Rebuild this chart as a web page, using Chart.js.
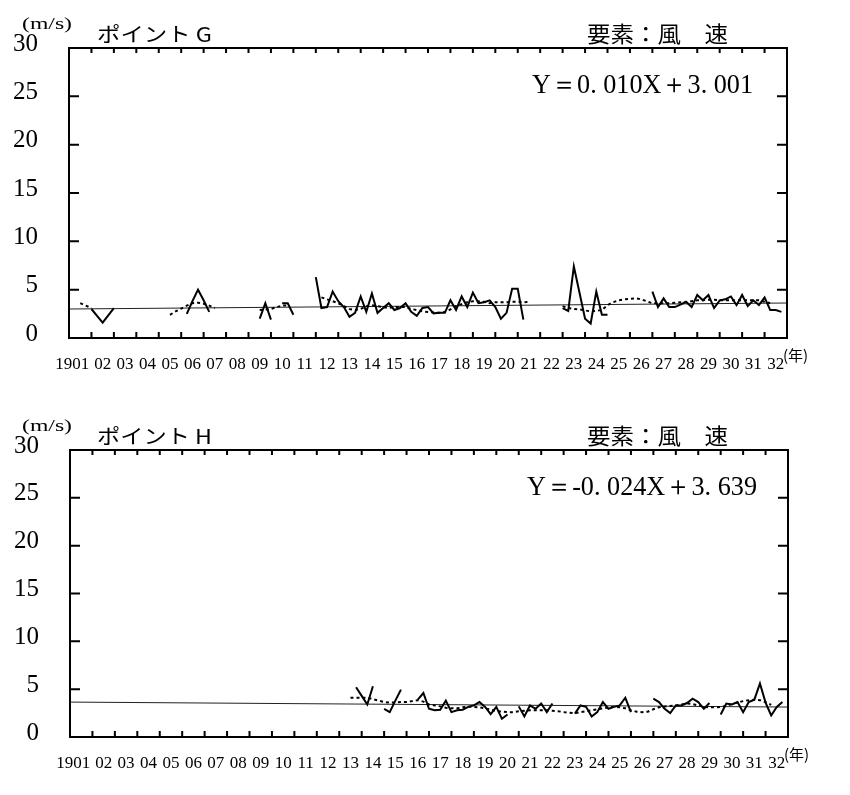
<!DOCTYPE html>
<html>
<head>
<meta charset="utf-8">
<script src="https://cdn.jsdelivr.net/npm/chart.js@4.4.1/dist/chart.umd.min.js"></script>
<style>
  html, body { margin: 0; padding: 0; background: #fff; }
  .box { position: absolute; left: 0; width: 850px; }
</style>
</head>
<body>
<div class="box" style="top:0;height:398px"><canvas id="chartG" width="850" height="398"></canvas></div>
<div class="box" style="top:398px;height:397px"><canvas id="chartH" width="850" height="397"></canvas></div>
<script>
const _ = null;

// year labels on the x axis (1901 - 1932)
const years = ['1901', '02', '03', '04', '05', '06', '07', '08', '09', '10',
  '11', '12', '13', '14', '15', '16', '17', '18', '19', '20',
  '21', '22', '23', '24', '25', '26', '27', '28', '29', '30', '31', '32'];
const perYear = 4; // four values a year
const yTicks = [0, 5, 10, 15, 20, 25, 30];

// ポイント G, wind speed (m/s), one row per year
const gSolid = [
  _, _, _, _,          3.0, 2.3, 1.6, 2.35,   3.1, _, _, _,          _, _, _, _,
  _, _, _, _,          _, 2.5, 3.8, 5.0,      3.9, 2.7, _, _,        _, _, _, _,
  _, _, 2.0, 3.6,      1.9, _, 3.6, 3.6,      2.4, _, _, _,          6.3, 3.1, 3.2, 4.8,
  3.8, 3.2, 2.2, 2.6,  4.3, 2.7, 4.6, 2.6,    3.1, 3.6, 2.9, 3.1,    3.6, 2.7, 2.3, 3.1,
  3.2, 2.55, 2.6, 2.6, 3.9, 2.9, 4.3, 3.2,    4.7, 3.6, 3.7, 3.9,    3.2, 2.0, 2.6, 5.1,
  5.1, 1.9, _, _,      _, _, _, _,            3.1, 2.8, 7.4, 4.7,    2.0, 1.5, 4.8, 2.4,
  2.4, _, _, _,        _, _, _, _,            4.8, 3.2, 4.1, 3.2,    3.2, 3.45, 3.75, 3.2,
  4.45, 3.9, 4.45, 3.1, 3.9, 4.0, 4.3, 3.4,   4.45, 3.3, 3.9, 3.4,   4.2, 2.9, 2.9, 2.7
];
const gSmooth = [
  _, _, 3.6, 3.35,     3.1, _, _, _,          _, _, _, _,            _, _, _, _,
  _, _, 2.4, 2.75,     3.05, 3.35, 3.6, 3.65, 3.55, 3.35, 3.1, _,    _, _, _, _,
  _, _, 2.9, 2.95,     3.0, 3.2, 3.35, 3.35,  _, _, _, _,            _, 4.2, 4.0, 3.8,
  3.6, 3.3, 3.0, 2.9,  3.0, 3.3, 3.4, 3.3,    3.2, 3.1, 3.2, 3.2,    3.2, 3.0, 2.9, 2.75,
  2.7, 2.65, 2.6, 2.7, 2.95, 3.3, 3.5, 3.7,   3.8, 3.8, 3.75, 3.6,   3.7, 3.7, 3.7, 3.75,
  3.75, 3.7, 3.75, _,  _, _, _, _,            3.3, 3.1, 3.0, 2.95,   2.85, 2.75, 2.8, 2.9,
  3.4, 3.7, 3.9, 4.0,  4.05, 4.1, 4.0, 3.8,   3.6, 3.6, 3.6, 3.6,    3.65, 3.7, 3.7, 3.8,
  3.9, 3.9, 3.95, 3.95, 3.9, 3.9, 3.9, 3.9,   3.9, 3.9, 3.9, 3.9,    3.75, 3.6, _, _
];
const gTrend = [3.0, 3.62]; // regression line at 1901 and at the end of 1932

// ポイント H
const hSolid = [
  _, _, _, _,          _, _, _, _,            _, _, _, _,            _, _, _, _,
  _, _, _, _,          _, _, _, _,            _, _, _, _,            _, _, _, _,
  _, _, _, _,          _, _, _, _,            _, _, _, _,            _, _, _, _,
  _, _, _, 5.2,        4.3, 3.4, 5.3, _,      2.95, 2.6, 3.8, 4.95,  _, _, 3.9, 4.6,
  2.95, 2.8, 2.85, 3.8, 2.6, 2.8, 2.85, 3.15, 3.3, 3.65, 3.15, 2.4,  3.15, 1.9, 2.35, _,
  3.2, 2.15, 3.3, 2.95, 3.5, 2.6, 3.5, _,     _, _, 2.45, 3.3,       3.15, 2.15, 2.6, 3.65,
  2.95, 3.15, 3.3, 4.1, 2.6, _, _, _,         4.0, 3.65, 2.95, 2.5,  3.3, 3.3, 3.55, 4.0,
  3.65, 2.95, 3.55, _, 2.35, 3.5, 3.4, 3.65,  2.6, 3.65, 3.9, 5.6,   3.6, 2.25, 3.15, 3.65
];
const hSmooth = [
  _, _, _, _,          _, _, _, _,            _, _, _, _,            _, _, _, _,
  _, _, _, _,          _, _, _, _,            _, _, _, _,            _, _, _, _,
  _, _, _, _,          _, _, _, _,            _, _, _, _,            _, _, _, _,
  _, _, 4.1, 4.1,      4.1, 4.1, 3.95, 3.8,   3.65, 3.6, 3.6, 3.65,  3.65, 3.75, 3.85, 3.7,
  3.4, 3.3, 3.2, 3.05, 3.0, 3.0, 3.1, 3.15,   3.15, 3.1, 3.0, 2.85,  2.7, 2.65, 2.6, 2.6,
  2.7, 2.75, 2.8, 2.8, 2.8, 2.8, 2.75, 2.7,   2.6, 2.55, 2.5, 2.6,   2.7, 2.8, 2.9, 3.0,
  3.1, 3.15, 3.1, 3.0, 2.8, 2.65, 2.6, 2.65,  2.9, 3.1, 3.2, 3.25,   3.3, 3.4, 3.5, 3.45,
  3.3, 3.15, 3.1, 3.1, 3.15, 3.25, 3.45, 3.6, 3.75, 3.85, 3.9, 3.85, 3.65, 3.35, _, _
];
const hTrend = [3.65, 3.13];

const toPoints = arr => arr.map((v, i) => ({ x: i / perYear, y: v }));

function fitText(ctx, text, left, cy, width, font) {
  ctx.font = font;
  const w = ctx.measureText(text).width;
  ctx.save();
  ctx.translate(left, cy);
  ctx.scale(width / w, 1);
  ctx.textAlign = 'left';
  ctx.textBaseline = 'middle';
  ctx.fillText(text, 0, 0);
  ctx.restore();
}

// frame with inward ticks, titles and the regression formula
const frameAndText = {
  id: 'frameAndText',
  afterDraw(chart, args, opts) {
    const { ctx, chartArea: a } = chart;
    const x = chart.scales.x, y = chart.scales.y;
    ctx.save();
    ctx.strokeStyle = '#000';
    ctx.lineWidth = 2;
    ctx.strokeRect(a.left, a.top, a.right - a.left, a.bottom - a.top);
    ctx.beginPath();
    yTicks.slice(1, -1).forEach(v => {
      const py = y.getPixelForValue(v);
      ctx.moveTo(a.left, py); ctx.lineTo(a.left + 10, py);
      ctx.moveTo(a.right - 10, py); ctx.lineTo(a.right, py);
    });
    for (let k = 1; k < years.length; k++) {
      const px = x.getPixelForValue(k);
      ctx.moveTo(px, a.top); ctx.lineTo(px, a.top + 5);
      ctx.moveTo(px, a.bottom); ctx.lineTo(px, a.bottom - 6);
    }
    ctx.stroke();

    ctx.fillStyle = '#000';
    fitText(ctx, '(m/s)', 22, a.top - 23, 50, '16px "Liberation Serif"');
    fitText(ctx, opts.title, 97, a.top - 14, 115, '20px "Noto Sans CJK JP"');
    fitText(ctx, '要素：風　速', 587, a.top - 14, 141, '22px "Noto Sans CJK JP"');
    fitText(ctx, opts.equation, opts.eqLeft, a.top + 38, opts.eqWidth, '27px "Liberation Serif"');
    ctx.font = '15px "Noto Sans CJK JP"';
    ctx.textAlign = 'left';
    ctx.textBaseline = 'middle';
    ctx.fillText('(年)', a.right - 4, a.bottom + 17);
    ctx.restore();
  }
};

function makeChart(id, solid, smooth, trend, o) {
  new Chart(document.getElementById(id), {
    type: 'line',
    data: {
      datasets: [
        { data: toPoints(solid), borderColor: '#000', borderWidth: 2, pointRadius: 0, tension: 0, spanGaps: false },
        { data: toPoints(smooth), borderColor: '#000', borderWidth: 2, borderDash: [3, 3], pointRadius: 0, tension: 0, spanGaps: false },
        { data: [{ x: 0, y: trend[0] }, { x: years.length, y: trend[1] }], borderColor: '#222', borderWidth: 1, pointRadius: 0 }
      ]
    },
    options: {
      responsive: false,
      animation: false,
      layout: { padding: { top: o.top, right: o.right, left: 0, bottom: 0 } },
      plugins: {
        legend: { display: false },
        tooltip: { enabled: false },
        frameAndText: { title: o.title, equation: o.equation, eqLeft: o.eqLeft, eqWidth: o.eqWidth }
      },
      scales: {
        x: {
          type: 'linear',
          min: 0,
          max: years.length,
          grid: { display: false },
          border: { display: false },
          afterBuildTicks: scale => {
            scale.ticks = years.map((_, k) => ({ value: k === 0 ? 0.15 : k + 0.5 }));
          },
          afterFit: scale => { scale.height = o.xHeight; },
          ticks: {
            autoSkip: false,
            maxRotation: 0,
            minRotation: 0,
            padding: 8,
            color: '#000',
            font: { family: '"Liberation Serif"', size: 17 },
            callback: (value, index) => years[index]
          }
        },
        y: {
          min: 0,
          max: 30,
          grid: { display: false },
          border: { display: false },
          afterBuildTicks: scale => { scale.ticks = yTicks.map(v => ({ value: v })); },
          afterFit: scale => { scale.width = o.yWidth; },
          ticks: {
            padding: 23,
            labelOffset: -4,
            color: '#000',
            font: { family: '"Liberation Serif"', size: 25 }
          }
        }
      }
    },
    plugins: [frameAndText]
  });
}

makeChart('chartG', gSolid, gSmooth, gTrend, {
  title: 'ポイント G', equation: 'Y＝0. 010X＋3. 001', eqLeft: 532, eqWidth: 221,
  top: 48, right: 63, yWidth: 69, xHeight: 60
});
makeChart('chartH', hSolid, hSmooth, hTrend, {
  title: 'ポイント H', equation: 'Y＝-0. 024X＋3. 639', eqLeft: 527, eqWidth: 230,
  top: 52, right: 62, yWidth: 70, xHeight: 58
});
</script>
</body>
</html>
